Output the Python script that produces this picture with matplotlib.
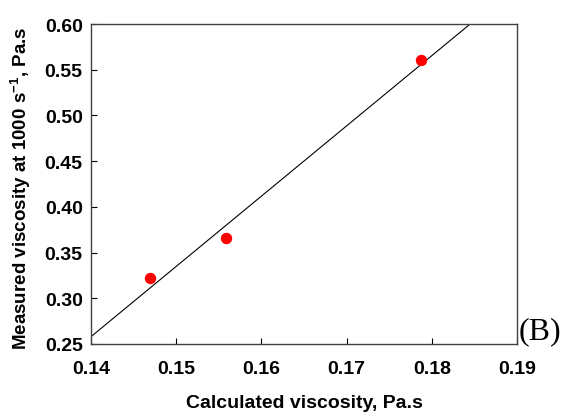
import matplotlib
matplotlib.use("Agg")
import matplotlib.pyplot as plt

plt.rcParams.update({
    "font.family": "Liberation Sans",
    "font.weight": "bold",
    "mathtext.fontset": "custom",
    "mathtext.rm": "Liberation Sans:bold",
    "mathtext.bf": "Liberation Sans:bold",
})

# data
calc_visc = [0.1469, 0.1558, 0.1787]
meas_visc = [0.322, 0.366, 0.561]
fit_x = [0.14, 0.1845]
fit_y = [0.258, 0.60]
xticks = [0.14, 0.15, 0.16, 0.17, 0.18, 0.19]
yticks = [0.25, 0.30, 0.35, 0.40, 0.45, 0.50, 0.55, 0.60]

fig = plt.figure(figsize=(5.61, 4.14), dpi=100)
ax = fig.add_axes([0.1622, 0.1667, 0.7594, 0.7729])

ax.plot(fit_x, fit_y, color="black", lw=0.8)
ax.plot(calc_visc, meas_visc, "o", color="#ff0000", ms=7.2, mec="#ff0000")

ax.set_xlim(0.14, 0.19)
ax.set_ylim(0.25, 0.60)
ax.set_xticks(xticks)
ax.set_yticks(yticks)
ax.set_xticklabels([f"{v:.2f}" for v in xticks])
ax.set_yticklabels([f"{v:.2f}" for v in yticks])
ax.tick_params(direction="in", length=4, width=0.8, labelsize=14,
               top=False, right=False)
ax.tick_params(axis="x", pad=11.5)
ax.tick_params(axis="y", pad=6)
for lbl in ax.get_xticklabels() + ax.get_yticklabels():
    lbl.set_fontweight("bold")
for s in ax.spines.values():
    s.set_color("#404040")
    s.set_linewidth(1.0)

ax.set_xlabel("Calculated viscosity, Pa.s", fontsize=14, fontweight="bold")
ax.set_ylabel(r"Measured viscosity at 1000 s$^{\mathbf{-1}}$, Pa.s",
              fontsize=13.5, fontweight="bold")
ax.xaxis.set_label_coords(0.5, -0.157)
ax.yaxis.set_label_coords(-0.136, 0.49)

fig.text(519 / 561, 1 - 339 / 414, "(B)", fontsize=23,
         family="Liberation Serif", fontweight="normal",
         ha="left", va="baseline")

fig.savefig("out.png", dpi=100)
